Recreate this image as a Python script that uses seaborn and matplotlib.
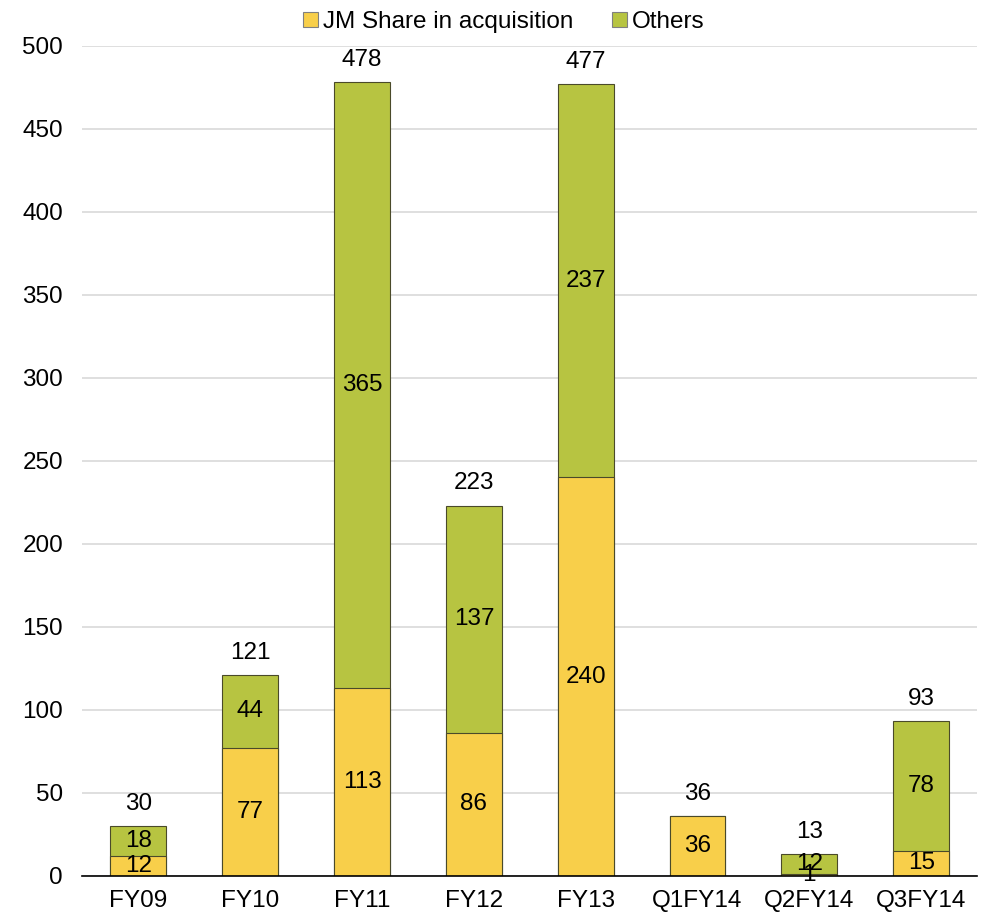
import matplotlib
matplotlib.use("Agg")
import matplotlib.pyplot as plt
import seaborn as sns
import pandas as pd
from matplotlib.patches import Patch

sns.set_theme(style="white")
plt.rcParams["font.family"] = ["Liberation Sans", "DejaVu Sans"]
plt.rcParams["text.color"] = "black"

periods = ["FY09", "FY10", "FY11", "FY12", "FY13", "Q1FY14", "Q2FY14", "Q3FY14"]
jm_share = [12, 77, 113, 86, 240, 36, 1, 15]
others = [18, 44, 365, 137, 237, 0, 12, 78]
totals = [a + b for a, b in zip(jm_share, others)]

YELLOW = "#F8CF4A"
GREEN = "#B7C441"
EDGE = "#4A4A2A"

df = pd.DataFrame({"period": periods, "jm": jm_share, "others": others, "total": totals})

fig, ax = plt.subplots(figsize=(9.82, 9.17), dpi=100)
fig.subplots_adjust(left=0.084, right=0.995, bottom=0.045, top=0.95)

# Stacked look: full totals in green, JM share drawn over the bottom
sns.barplot(data=df, x="period", y="total", color=GREEN, width=0.5,
            edgecolor=EDGE, linewidth=0.8, saturation=1, ax=ax, zorder=2)
sns.barplot(data=df, x="period", y="jm", color=YELLOW, width=0.5,
            edgecolor=EDGE, linewidth=0.8, saturation=1, ax=ax, zorder=3)

fs = 17.5
for i, (j, o, t) in enumerate(zip(jm_share, others, totals)):
    ax.text(i, j / 2, str(j), ha="center", va="center", fontsize=fs, color="black", zorder=5)
    if o > 0:
        ax.text(i, j + o / 2, str(o), ha="center", va="center", fontsize=fs, color="black", zorder=5)
    ax.annotate(str(t), (i, t), xytext=(0, 8), textcoords="offset points",
                ha="center", va="bottom", fontsize=fs, color="black", zorder=5)

ax.set_ylim(0, 500)
ax.set_xlim(-0.5, len(periods) - 0.5)
ax.set_yticks(range(0, 501, 50))
ax.yaxis.grid(True, color="#D9D9D9", linewidth=1.2)
ax.set_axisbelow(True)
ax.set_xlabel("")
ax.set_ylabel("")
ax.tick_params(axis="both", length=0, labelsize=fs, colors="black")
ax.tick_params(axis="x", pad=10)
ax.tick_params(axis="y", pad=14)
for side in ["left", "right", "top"]:
    ax.spines[side].set_visible(False)
ax.spines["bottom"].set_color("black")
ax.spines["bottom"].set_linewidth(1.2)
ax.spines["bottom"].set_zorder(4)

handles = [Patch(facecolor=YELLOW, edgecolor="#808080", linewidth=0.8, label="JM Share in acquisition"),
           Patch(facecolor=GREEN, edgecolor="#808080", linewidth=0.8, label="Others")]
fig.legend(handles=handles, loc="upper center", bbox_to_anchor=(0.513, 1.012), ncol=2,
           frameon=False, fontsize=fs, handlelength=0.6, handleheight=0.6,
           handletextpad=0.2, columnspacing=1.6, labelcolor="black")

fig.savefig("out.png", dpi=100)
